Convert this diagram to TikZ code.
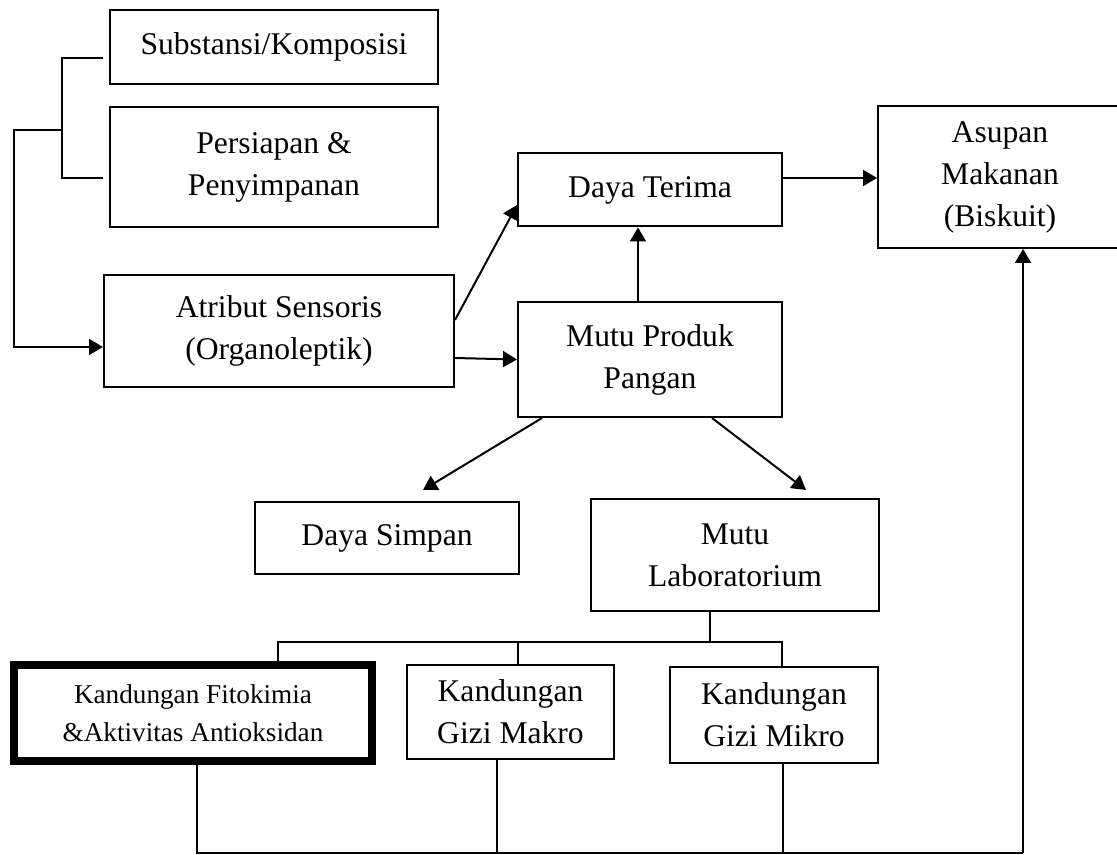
\documentclass[tikz,border=0pt]{standalone}
\usepackage{fontspec}
\setmainfont{Liberation Serif}
\usepackage{tikz}
\usetikzlibrary{arrows.meta, positioning}
\tikzset{
    >={Triangle[length=7pt, width=8pt]}, % filled triangle heads
    every path/.style={line width=1pt}, % lines as in the scan
    box/.style={draw, align=center, inner sep=0pt, font=\fontsize{15.8}{21}\selectfont}, % plain boxes
    boldbox/.style={box, line width=4pt, font=\fontsize{13.6}{19}\selectfont}, % the framed box
}

\begin{document}
\begin{tikzpicture}[x=0.5pt, y=-0.5pt]
                            \useasboundingbox (0,0) rectangle (1117,855);
                            \node[box, minimum width=164pt, minimum height=37pt] (subst) at (274,47) {Substansi/Komposisi};
                            \node[box, minimum width=164pt, minimum height=60pt] (prep) at (274,167) {Persiapan \&\\Penyimpanan};
                            \node[box, minimum width=175pt, minimum height=56pt] (sens) at (279,331) {Atribut Sensoris\\(Organoleptik)};
                            \node[box, minimum width=132pt, minimum height=36.5pt] (terima) at (650,190) {Daya Terima};
                            \node[box, minimum width=132pt, minimum height=57.5pt] (mutu) at (650,359.5) {Mutu Produk\\Pangan};
                            \node[box, minimum width=122pt, minimum height=71pt] (asupan) at (1000,177) {Asupan\\Makanan\\(Biskuit)};
                            \node[box, minimum width=132pt, minimum height=36pt] (simpan) at (387,538) {Daya Simpan};
                            \node[box, minimum width=144pt, minimum height=56pt] (lab) at (735,555) {Mutu\\Laboratorium};
                            \node[boldbox, minimum width=179pt, minimum height=48pt] (fito) at (193,713) {Kandungan Fitokimia\\\&Aktivitas Antioksidan};
                            \node[box, minimum width=103.5pt, minimum height=47pt] (makro) at (510.5,712) {Kandungan\\Gizi Makro};
                            \node[box, minimum width=104pt, minimum height=48pt] (mikro) at (774,715) {Kandungan\\Gizi Mikro};
                            % free ends of the connectors
                            \coordinate (stubA) at (103,58);
                            \coordinate (stubB) at (103,178);
                            \coordinate (brk) at (62,130);
                            \coordinate (lft) at (14,130);
                            \coordinate (tipL) at (423,490);
                            \coordinate (tipR) at (806,490);
                            \coordinate (busL) at (278,642);
                            \coordinate (busM) at (518,642);
                            \coordinate (busR) at (782,642);
                            \coordinate (labjoin) at (710,642);
                            \coordinate (baseL) at (197,853);
                            \coordinate (baseR) at (1023,853);
                            \draw (stubA) -| (brk) |- (stubB);
                            \draw[->] (brk) -- (lft) |- ([yshift=-8pt]sens.west);
                            \draw[->] ([yshift=5.5pt]sens.east) -- ([yshift=-7.5pt]terima.west);
                            \draw[->] ([yshift=-13.5pt]sens.east) -- (mutu.west);
                            \draw[->] ([xshift=-6pt]mutu.north) -- ([xshift=-6pt]terima.south);
                            \draw[->] ([yshift=6pt]terima.east) -- ([yshift=6pt]terima.east -| asupan.west);
                            \draw[->] ([xshift=-54pt]mutu.south) -- (tipL);
                            \draw[->] ([xshift=31pt]mutu.south) -- (tipR);
                            \draw (lab.south -| labjoin) -- (labjoin);
                            \draw (busL |- fito.north) -- (busL) -- (busR) -- (busR |- mikro.north);
                            \draw (busM) -- (busM |- makro.north);
                            \draw (baseL |- fito.south) -- (baseL) -- (baseR);
                            \draw ([xshift=-6.75pt]makro.south) -- ([xshift=-6.75pt]makro.south |- baseL);
                            \draw ([xshift=4.5pt]mikro.south) -- ([xshift=4.5pt]mikro.south |- baseL);
                            \draw[->] (baseR) -- (baseR |- asupan.south);
                        \end{tikzpicture}
\end{document}
